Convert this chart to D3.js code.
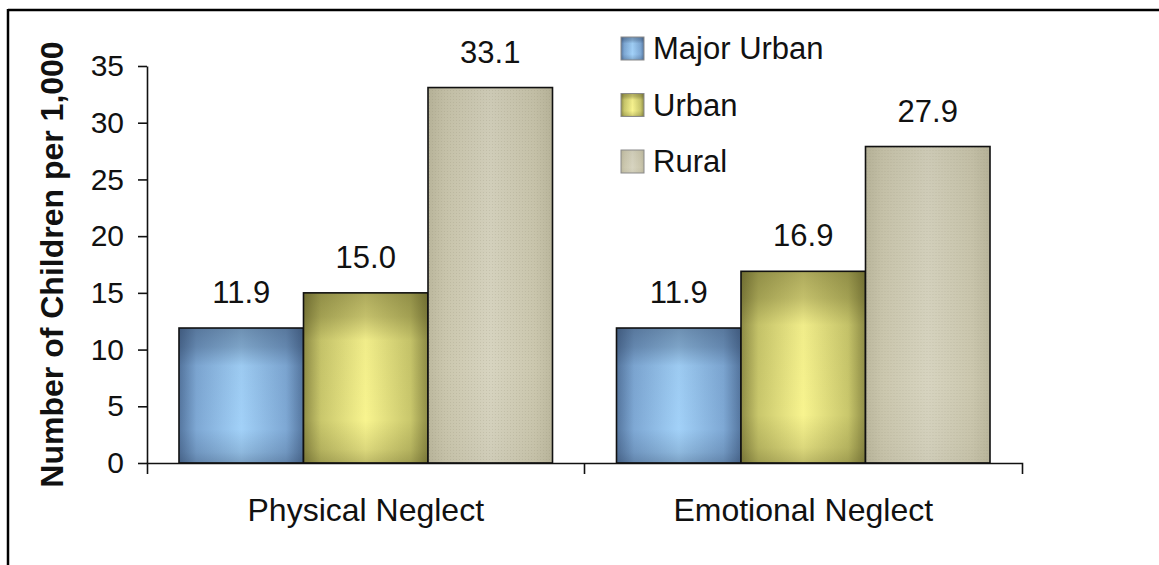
<!DOCTYPE html>
<html>
<head>
<meta charset="utf-8">
<script src="https://cdn.jsdelivr.net/npm/d3@7"></script>
<style>
  html, body { margin: 0; padding: 0; background: #fff; }
  svg { display: block; font-family: "Liberation Sans", Arial, sans-serif; }
</style>
</head>
<body>
<svg id="chart" width="1159" height="565"></svg>
<script>
// Child neglect rates by area type (per 1,000 children)
const categories = ["Physical Neglect", "Emotional Neglect"];
const seriesNames = ["Major Urban", "Urban", "Rural"];
const majorUrban = [11.9, 11.9];
const urban = [15.0, 16.9];
const rural = [33.1, 27.9];
const yTicks = [0, 5, 10, 15, 20, 25, 30, 35];
const yTitle = "Number of Children per 1,000";

const seriesValues = [majorUrban, urban, rural];
const rows = categories.map((c, i) => ({
  category: c,
  values: seriesNames.map((s, k) => ({ series: s, value: seriesValues[k][i] }))
}));

const svg = d3.select("#chart");
const W = 1159, H = 565;
const margin = { left: 147, right: 137, top: 66, bottom: 102 };
const plotBottom = H - margin.bottom;

const y = d3.scaleLinear().domain([0, 35]).range([plotBottom, margin.top]);
const x0 = d3.scaleBand().domain(categories).range([margin.left, W - margin.right]).padding(0);
const x1 = d3.scaleBand().domain(seriesNames).range([0, x0.bandwidth()]).paddingInner(0).paddingOuter(0.257);

// Gradients for the shaded bar fills
const defs = svg.append("defs");
const palettes = {
  "Major Urban": { edge: "#55769f", mid: "#7ea8d4", center: "#a2d1f8", shade: "#1f2f4a" },
  "Urban": { edge: "#8f8d47", mid: "#c9c76c", center: "#f8f48f", shade: "#3d3a10" },
  "Rural": { edge: "#bdb99f", mid: "#cbc7ae", center: "#d7d4c0", shade: "#4a4630" }
};
const idOf = s => s.replace(/\s+/g, "-").toLowerCase();
seriesNames.forEach(s => {
  const p = palettes[s];
  const h = defs.append("linearGradient").attr("id", "h-" + idOf(s))
    .attr("x1", "0").attr("y1", "0").attr("x2", "1").attr("y2", "0");
  [[0, p.edge], [0.14, p.mid], [0.5, p.center], [0.86, p.mid], [1, p.edge]]
    .forEach(([o, c]) => h.append("stop").attr("offset", o).attr("stop-color", c));
  const v = defs.append("linearGradient").attr("id", "v-" + idOf(s))
    .attr("x1", "0").attr("y1", "0").attr("x2", "0").attr("y2", "1");
  const topShade = s === "Rural" ? 0.08 : 0.4;
  const botShade = s === "Rural" ? 0.06 : 0.3;
  [[0, topShade], [0.14, topShade * 0.7], [0.28, 0.04], [0.75, 0], [0.92, botShade * 0.5], [1, botShade]]
    .forEach(([o, a]) => v.append("stop").attr("offset", o).attr("stop-color", p.shade).attr("stop-opacity", a));
});
// fine dotted texture on the rural fill
const pat = defs.append("pattern").attr("id", "dots").attr("patternUnits", "userSpaceOnUse")
  .attr("width", 3).attr("height", 3);
pat.append("rect").attr("width", 1).attr("height", 1).attr("fill", "#8a866e").attr("opacity", 0.2);

// Frame lines (top and left)
svg.append("line").attr("x1", 8).attr("y1", 10).attr("x2", W).attr("y2", 10)
  .attr("stroke", "#000").attr("stroke-width", 2.5);
svg.append("line").attr("x1", 8).attr("y1", 9).attr("x2", 8).attr("y2", H)
  .attr("stroke", "#000").attr("stroke-width", 2.5);

// Bars
const groups = svg.append("g").selectAll("g").data(rows).join("g")
  .attr("transform", d => `translate(${x0(d.category)},0)`);

groups.each(function (d) {
  const g = d3.select(this);
  const bars = g.selectAll("g.bar").data(d.values).join("g").attr("class", "bar");
  const geom = sel => sel
    .attr("x", v => x1(v.series))
    .attr("y", v => y(v.value))
    .attr("width", x1.bandwidth())
    .attr("height", v => y(0) - y(v.value));
  bars.append("rect").call(geom).attr("fill", v => `url(#h-${idOf(v.series)})`);
  bars.append("rect").call(geom).attr("fill", v => `url(#v-${idOf(v.series)})`);
  bars.filter(v => v.series === "Rural").append("rect").call(geom).attr("fill", "url(#dots)");
  bars.append("rect").call(geom).attr("fill", "none").attr("stroke", "#111").attr("stroke-width", 1.6);
  bars.append("text")
    .attr("x", v => x1(v.series) + x1.bandwidth() / 2)
    .attr("y", v => y(v.value) - 25)
    .attr("text-anchor", "middle")
    .attr("font-size", 31)
    .attr("fill", "#111")
    .text(v => v.value.toFixed(1));
});

// Y axis
const yAxis = svg.append("g").attr("transform", `translate(${margin.left},0)`)
  .call(d3.axisLeft(y).tickValues(yTicks).tickSize(9).tickSizeOuter(0).tickPadding(14));
yAxis.selectAll("text").attr("font-size", 30).attr("fill", "#111")
  .attr("font-family", "'Liberation Sans', Arial, sans-serif");
yAxis.selectAll("line, path").attr("stroke", "#111").attr("stroke-width", 1.6);

// X axis: category labels, boundary ticks at the band edges
const xAxis = svg.append("g").attr("transform", `translate(0,${plotBottom})`)
  .call(d3.axisBottom(x0).tickSize(0).tickSizeOuter(11).tickPadding(35));
xAxis.selectAll("text").attr("font-size", 32).attr("fill", "#111")
  .attr("font-family", "'Liberation Sans', Arial, sans-serif");
xAxis.selectAll("path").attr("stroke", "#111").attr("stroke-width", 1.6);
xAxis.selectAll("g.sep").data(categories.slice(1)).join("line")
  .attr("x1", c => x0(c)).attr("x2", c => x0(c))
  .attr("y1", 0).attr("y2", 11)
  .attr("stroke", "#111").attr("stroke-width", 1.6);

// Y axis title
svg.append("text")
  .attr("transform", `translate(63,${(y(0) + y(35)) / 2}) rotate(-90)`)
  .attr("text-anchor", "middle")
  .attr("font-size", 32)
  .attr("font-weight", "bold")
  .attr("fill", "#111")
  .text(yTitle);

// Legend
const legend = svg.append("g").attr("transform", "translate(621,37)");
const li = legend.selectAll("g").data(seriesNames).join("g")
  .attr("transform", (d, i) => `translate(0,${i * 56.5})`);
li.append("rect").attr("width", 23).attr("height", 23).attr("fill", d => `url(#h-${idOf(d)})`);
li.append("rect").attr("width", 23).attr("height", 23).attr("fill", d => `url(#v-${idOf(d)})`)
  .attr("stroke", "#8a8a8a").attr("stroke-width", 1);
li.append("text").attr("x", 32).attr("y", 22)
  .attr("font-size", 31).attr("fill", "#111").text(d => d);
</script>
</body>
</html>
